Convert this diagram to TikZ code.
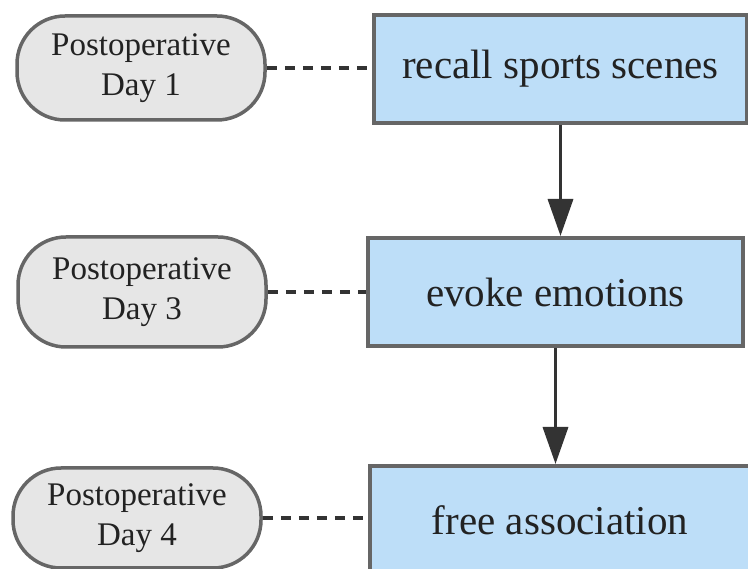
\documentclass[tikz,border=0pt]{standalone}
\usepackage{fontspec}
\setmainfont{LiberationSerif}[Extension=.ttf, UprightFont=*-Regular, BoldFont=*-Bold]
\usetikzlibrary{arrows.meta}
\definecolor{boxfill}{HTML}{BDDEF8}
\definecolor{pillfill}{HTML}{E6E6E6}
\definecolor{edgegray}{HTML}{666666}
\definecolor{inkdark}{HTML}{222222}
\definecolor{linkdark}{HTML}{333333}
\begin{document}
\begin{tikzpicture}[x=1pt,y=-1pt,
  stepbox/.style={draw=edgegray, line width=4pt, fill=boxfill, rectangle,
    minimum height=108pt, inner sep=0pt, text=inkdark,
    font=\fontsize{41}{48}\selectfont},
  daypill/.style={draw=edgegray, line width=3.5pt, fill=pillfill, rectangle,
    rounded corners=48pt, minimum width=248pt, inner sep=0pt, text=inkdark,
    align=center, font=\fontsize{33}{40}\selectfont},
  dotlink/.style={draw=linkdark, line width=3.5pt, dash pattern=on 10pt off 8pt},
  flow/.style={draw=linkdark, line width=3.5pt, -{Triangle[width=25pt,length=37pt]}}
]
\useasboundingbox (0,0) rectangle (748,569);
\node[stepbox, minimum width=373pt] (b1) at (560.5,69) {recall sports scenes};
\node[stepbox, minimum width=375pt] (b2) at (555.5,292) {evoke emotions};
\node[stepbox, minimum width=380pt] (b3) at (560,520) {free association};
\node[daypill, minimum height=104pt] (p1) at (141,68) {Postoperative\\Day 1};
\node[daypill, minimum height=110pt] (p2) at (142,292) {Postoperative\\Day 3};
\node[daypill, minimum height=100pt] (p3) at (137,518) {Postoperative\\Day 4};
\draw[dotlink] (p1.east) -- (b1.west |- p1.east);
\draw[dotlink] (p2.east) -- (b2.west |- p2.east);
\draw[dotlink] (p3.east) -- (b3.west |- p3.east);
\draw[flow] (b1.south) -- (b1.south |- b2.north);
\draw[flow] (b2.south) -- (b2.south |- b3.north);
\end{tikzpicture}
\end{document}
